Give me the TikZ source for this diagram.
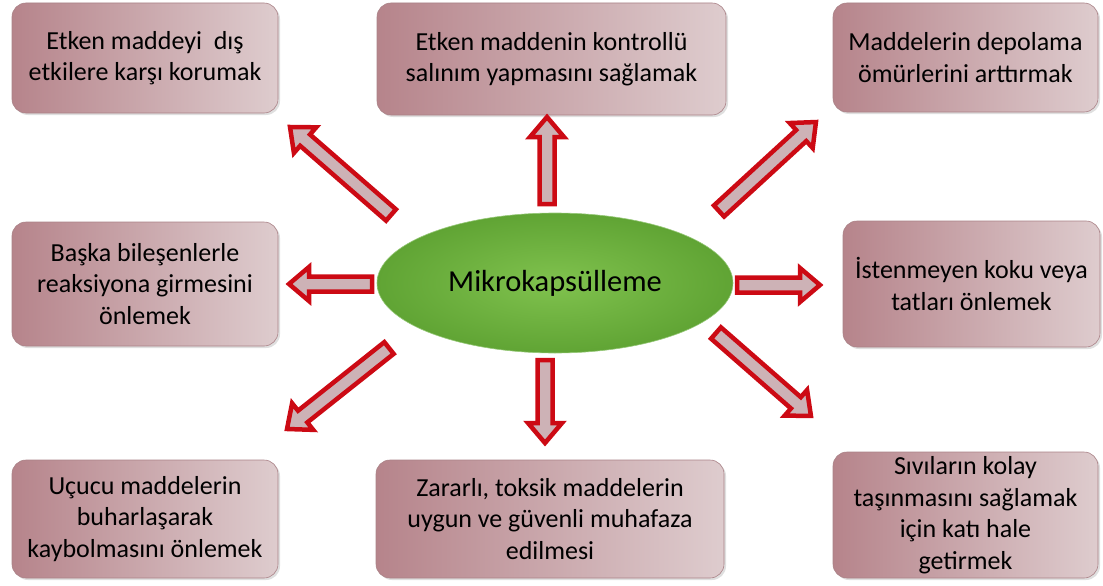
\documentclass[tikz,border=0pt]{standalone}
\usepackage{fontspec}
\setmainfont{Carlito}
\usetikzlibrary{shapes.geometric,shadows,calc}
\definecolor{arrred}{RGB}{204,10,20}
\definecolor{arrfill}{RGB}{205,178,182}
\definecolor{boxL}{RGB}{182,132,139}
\definecolor{boxR}{RGB}{222,204,206}
\definecolor{boxEdge}{RGB}{170,130,135}
\definecolor{grIn}{RGB}{128,194,78}
\definecolor{grOut}{RGB}{96,164,52}
\tikzset{
  infobox/.style={rectangle, rounded corners=14pt, draw=boxEdge, line width=0.6pt,
    left color=boxL, right color=boxR, align=center, inner sep=0pt,
    font=\fontsize{26}{31.5}\selectfont,
    drop shadow={opacity=0.25, shadow xshift=2pt, shadow yshift=-2pt}},
  centre/.style={ellipse, draw={rgb,255:red,150;green,200;blue,120}, line width=0.6pt,
    inner color=grIn, outer color=grOut, inner sep=0pt,
    minimum width=356pt, minimum height=140pt, font=\fontsize{30.5}{36}\selectfont},
  blockarr/.style={draw=arrred, fill=arrfill, line width=4.5pt, line join=miter, miter limit=3}
}
% block arrow from coordinate #1 to coordinate #2
\newcommand{\barrow}[2]{%
  \path let \p1=(#1), \p2=(#2),
    \n1={atan2(\y2-\y1,\x2-\x1)}, \n2={veclen(\x2-\x1,\y2-\y1)} in
    [blockarr, shift={(\p1)}, rotate=\n1]
    (0pt,-7.5pt) -- ({\n2-20pt},-7.5pt) -- ({\n2-20pt},-17pt) -- (\n2,0pt)
    -- ({\n2-20pt},17pt) -- ({\n2-20pt},7.5pt) -- (0pt,7.5pt) -- cycle;}
\begin{document}
\begin{tikzpicture}[x=1pt,y=-1pt]
\useasboundingbox (0,0) rectangle (1103,586);
% boxes
\node[infobox, minimum width=266pt, minimum height=110pt] (tl) at (145,58)
  {Etken maddeyi\ \ dış\\etkilere karşı korumak};
\node[infobox, minimum width=349pt, minimum height=112pt] (tc) at (551.5,59)
  {Etken maddenin kontrollü\\salınım yapmasını sağlamak};
\node[infobox, minimum width=265pt, minimum height=109pt] (tr) at (965.5,57.5)
  {Maddelerin depolama\\ömürlerini arttırmak};
\node[infobox, minimum width=266pt, minimum height=124pt] (ml) at (145,284)
  {Başka bileşenlerle\\reaksiyona girmesini\\önlemek};
\node[infobox, minimum width=257pt, minimum height=126pt] (mr) at (971.5,284)
  {İstenmeyen koku veya\\tatları önlemek};
\node[infobox, minimum width=266pt, minimum height=118pt] (bl) at (145,519)
  {Uçucu maddelerin\\buharlaşarak\\kaybolmasını önlemek};
\node[infobox, minimum width=348pt, minimum height=118pt] (bc) at (550,519)
  {Zararlı, toksik maddelerin\\uygun ve güvenli muhafaza\\edilmesi};
\node[infobox, minimum width=265pt, minimum height=126pt] (br) at (965.5,515)
  {Sıvıların kolay\\taşınmasını sağlamak\\için katı hale\\getirmek};
% centre
\node[centre] (c) at (555,283) {Mikrokapsülleme};
% arrow end points
\coordinate (u0) at (547,204); \coordinate (u1) at (547,117);
\coordinate (d0) at (545,360); \coordinate (d1) at (545,443);
\coordinate (l0) at (372,284); \coordinate (l1) at (289,284);
\coordinate (r0) at (737,285); \coordinate (r1) at (820,285);
\coordinate (a0) at (391,215); \coordinate (a1) at (290,127);
\coordinate (b0) at (719,211); \coordinate (b1) at (816,122);
\coordinate (e0) at (389,348); \coordinate (e1) at (287,429);
\coordinate (f0) at (716,333); \coordinate (f1) at (811,416);
\barrow{u0}{u1}
\barrow{d0}{d1}
\barrow{l0}{l1}
\barrow{r0}{r1}
\barrow{a0}{a1}
\barrow{b0}{b1}
\barrow{e0}{e1}
\barrow{f0}{f1}
\end{tikzpicture}
\end{document}
